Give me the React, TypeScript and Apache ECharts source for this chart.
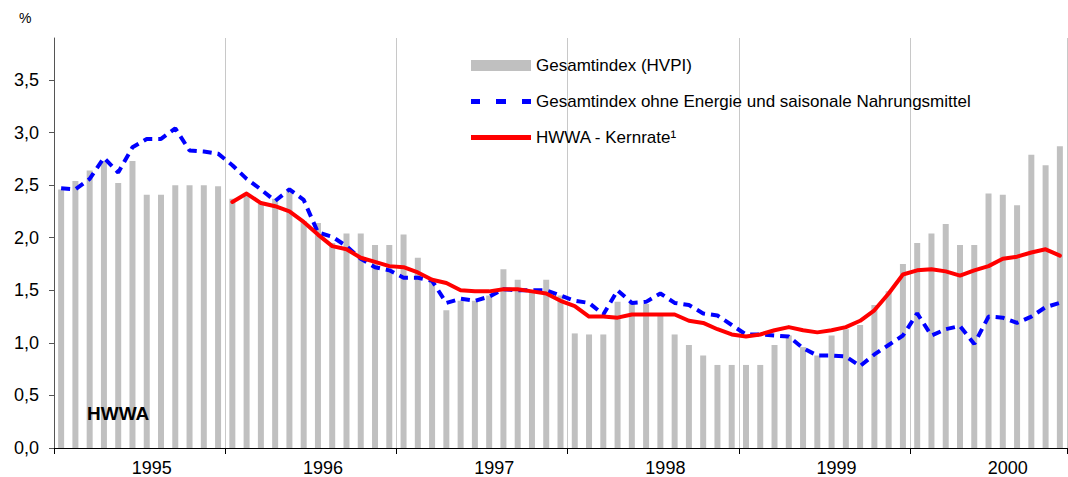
import React, { useEffect, useRef } from "react";
import * as echarts from "echarts";

const years = ["1995", "1996", "1997", "1998", "1999", "2000"];
const monthsInLastYear = 11;
const categories: string[] = [];
years.forEach((y, yi) => {
  const n = yi === years.length - 1 ? monthsInLastYear : 12;
  for (let m = 1; m <= n; m++) categories.push(`${y}-${m < 10 ? "0" + m : m}`);
});

const yTicks = [0, 0.5, 1, 1.5, 2, 2.5, 3, 3.5];

const seriesNames = [
  "Gesamtindex (HVPI)",
  "Gesamtindex ohne Energie und saisonale Nahrungsmittel",
  "HWWA - Kernrate¹",
];

// Gesamtindex (HVPI)
const hvpi = [
  2.46, 2.54, 2.64, 2.73, 2.52, 2.73, 2.41, 2.41, 2.5, 2.5, 2.5, 2.49,
  2.37, 2.4, 2.32, 2.37, 2.45, 2.16, 2.14, 1.95, 2.04, 2.04, 1.93, 1.93,
  2.03, 1.81, 1.59, 1.31, 1.4, 1.4, 1.45, 1.7, 1.6, 1.5, 1.6, 1.45,
  1.09, 1.08, 1.08, 1.39, 1.38, 1.37, 1.27, 1.08, 0.98, 0.88, 0.79, 0.79,
  0.79, 0.79, 0.98, 1.07, 0.96, 0.88, 1.07, 1.13, 1.17, 1.36, 1.49, 1.75,
  1.95, 2.04, 2.13, 1.93, 1.93, 2.42, 2.41, 2.31, 2.79, 2.69, 2.87,
];

// Gesamtindex ohne Energie und saisonale Nahrungsmittel
const ohneEnergie = [
  2.47, 2.46, 2.56, 2.76, 2.62, 2.86, 2.94, 2.94, 3.04, 2.83, 2.82, 2.8,
  2.69, 2.56, 2.46, 2.35, 2.46, 2.36, 2.05, 2.01, 1.92, 1.8, 1.72, 1.69,
  1.62, 1.62, 1.59, 1.38, 1.42, 1.4, 1.44, 1.51, 1.5, 1.5, 1.5, 1.45,
  1.4, 1.38, 1.27, 1.5, 1.38, 1.39, 1.47, 1.38, 1.36, 1.28, 1.26, 1.17,
  1.08, 1.08, 1.07, 1.06, 0.95, 0.88, 0.88, 0.87, 0.78, 0.89, 0.98, 1.07,
  1.28, 1.07, 1.13, 1.16, 0.99, 1.25, 1.24, 1.19, 1.25, 1.34, 1.38,
];

// HWWA - Kernrate
const kernrate = [
  null, null, null, null, null, null, null, null, null, null, null, null,
  2.34, 2.42, 2.33, 2.3, 2.25, 2.15, 2.03, 1.92, 1.89, 1.81, 1.77, 1.73,
  1.72, 1.67, 1.6, 1.57, 1.5, 1.49, 1.49, 1.51, 1.51, 1.49, 1.47, 1.4,
  1.35, 1.25, 1.25, 1.24, 1.27, 1.27, 1.27, 1.27, 1.21, 1.19, 1.13, 1.08,
  1.06, 1.08, 1.12, 1.15, 1.12, 1.1, 1.12, 1.15, 1.21, 1.31, 1.47, 1.65,
  1.69, 1.7, 1.68, 1.64, 1.69, 1.73, 1.8, 1.82, 1.86, 1.89, 1.83,
];

const FONT = 'Arial, "Liberation Sans", sans-serif';

export default function App() {
  const ref = useRef<HTMLDivElement>(null);
  useEffect(() => {
    if (!ref.current) return;
    const chart = echarts.init(ref.current, undefined, { renderer: "svg" });
    const legendBase = {
      orient: "vertical",
      left: 466,
      itemWidth: 60,
      selectedMode: false,
      textStyle: { fontSize: 17, color: "#000", fontFamily: FONT },
    };
    chart.setOption({
      animation: false,
      textStyle: { fontFamily: FONT },
      grid: { left: 54, top: 38, width: 1013, height: 411, containLabel: false },
      xAxis: {
        type: "category",
        data: categories,
        boundaryGap: true,
        axisLine: { show: true, lineStyle: { color: "#000", width: 1 } },
        axisTick: {
          show: true,
          interval: (i: number) => i % 12 === 0,
          length: 6,
          lineStyle: { color: "#000" },
        },
        splitLine: {
          show: true,
          interval: (i: number) => i % 12 === 0,
          lineStyle: { color: "#c8c8c8", width: 1 },
        },
        axisLabel: {
          interval: (i: number) => i % 12 === 6,
          formatter: (v: string) => v.slice(0, 4),
          fontSize: 18,
          color: "#000",
          margin: 11,
          padding: [0, 0, 0, 10],
          fontFamily: FONT,
        },
      },
      yAxis: {
        type: "value",
        min: 0,
        max: 3.9,
        interval: 0.5,
        axisLine: { show: true, lineStyle: { color: "#555", width: 1 } },
        axisTick: { show: true, length: 5, customValues: yTicks, lineStyle: { color: "#555" } },
        splitLine: { show: false },
        axisLabel: {
          customValues: yTicks,
          fontSize: 18,
          color: "#000",
          margin: 15,
          fontFamily: FONT,
          formatter: (v: number) =>
            yTicks.some((t) => Math.abs(t - v) < 1e-6) ? v.toFixed(1).replace(".", ",") : "",
        },
      },
      legend: [
        {
          ...legendBase,
          top: 52,
          itemHeight: 11,
          data: [{ name: seriesNames[0], icon: "rect", itemStyle: { borderWidth: 0 } }],
        },
        {
          ...legendBase,
          top: 88,
          itemHeight: 5,
          data: [
            {
              name: seriesNames[1],
              icon: "path://M0,0h9v5h-9z M25,0h10v5h-10z M51,0h9v5h-9z",
              itemStyle: { borderWidth: 0, color: "#0000ff" },
            },
          ],
        },
        {
          ...legendBase,
          top: 124,
          itemHeight: 5,
          data: [
            { name: seriesNames[2], icon: "rect", itemStyle: { borderWidth: 0, color: "#ff0000" } },
          ],
        },
      ],
      series: [
        {
          name: seriesNames[0],
          type: "bar",
          data: hvpi,
          barWidth: 6,
          itemStyle: { color: "#c0c0c0" },
        },
        {
          name: seriesNames[1],
          type: "line",
          data: ohneEnergie,
          symbol: "none",
          showSymbol: false,
          lineStyle: { color: "#0000ff", width: 4, type: [9, 6] },
          itemStyle: { color: "#0000ff" },
        },
        {
          name: seriesNames[2],
          type: "line",
          data: kernrate,
          symbol: "none",
          showSymbol: false,
          connectNulls: false,
          lineStyle: { color: "#ff0000", width: 4, join: "round", cap: "round" },
          itemStyle: { color: "#ff0000" },
        },
      ],
      graphic: [
        {
          type: "text",
          left: 19,
          top: 11,
          z: 100,
          style: { text: "%", fontSize: 14, fill: "#000", fontFamily: FONT },
        },
        {
          type: "text",
          left: 87,
          top: 404,
          z: 100,
          style: { text: "HWWA", fontSize: 19, fontWeight: "bold", fill: "#000", fontFamily: FONT },
        },
      ],
    });
    return () => chart.dispose();
  }, []);
  return (
    <div
      ref={ref}
      style={{ position: "absolute", left: 0, top: 0, width: 1068, height: 477, background: "#fff" }}
    />
  );
}
